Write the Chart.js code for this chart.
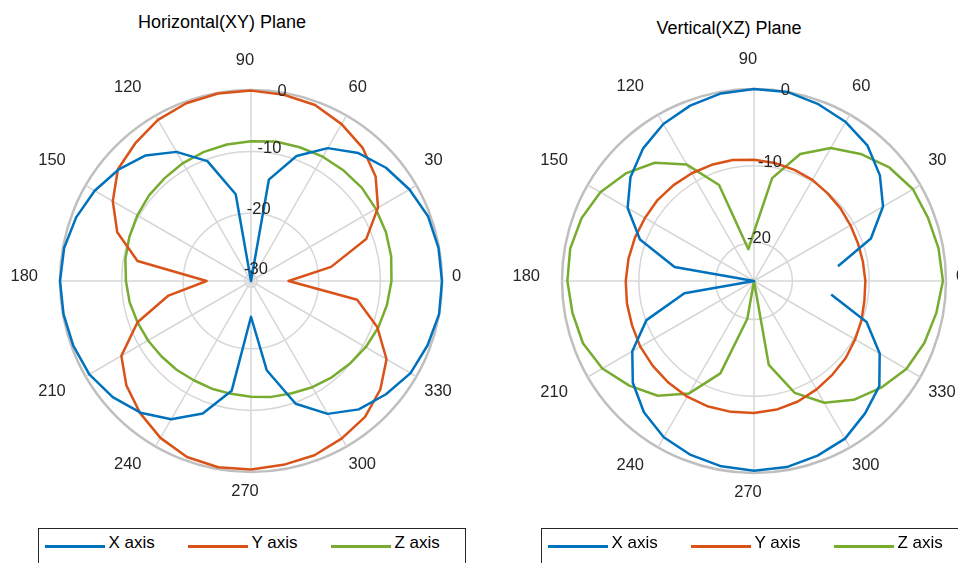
<!DOCTYPE html>
<html>
<head>
<meta charset="utf-8">
<script src="https://cdn.jsdelivr.net/npm/chart.js@4.4.1/dist/chart.umd.min.js"></script>
<style>
  html, body { margin: 0; padding: 0; background: #fff; }
  body { width: 958px; height: 563px; position: relative; overflow: hidden;
         font-family: "Liberation Sans", Arial, sans-serif; }
  canvas { position: absolute; top: 0; }
  .title { position: absolute; font-size: 18px; color: #000; white-space: nowrap;
           transform: translate(-50%, -50%); }
  .legend { position: absolute; top: 528px; height: 60px; border: 1px solid #262626;
            background: #fff; box-sizing: border-box; }
  .legend .line { position: absolute; top: 16px; width: 60px; height: 2.5px; }
  .legend .txt { position: absolute; top: 4px; line-height: 20px; font-size: 17px; color: #000; white-space: nowrap; }
</style>
</head>
<body>
<div class="title" style="left:222px; top:22px;">Horizontal(XY) Plane</div>
<div class="title" style="left:729px; top:28px;">Vertical(XZ) Plane</div>
<canvas id="xyChart" width="479" height="563" style="left:0px;"></canvas>
<canvas id="xzChart" width="479" height="563" style="left:479px;"></canvas>
<div class="legend" id="xyLegend" style="left:38px; width:428px;"></div>
<div class="legend" id="xzLegend" style="left:541px; width:430px;"></div>
<script>
// angles in degrees, counter-clockwise from the right
const thetaDeg = [0, 10, 20, 30, 40, 50, 60, 70, 80, 90, 100, 110, 120, 130, 140, 150, 160, 170,
                  180, 190, 200, 210, 220, 230, 240, 250, 260, 270, 280, 290, 300, 310, 320, 330, 340, 350];
const thetaTickLabels = [0, 30, 60, 90, 120, 150, 180, 210, 240, 270, 300, 330];

const seriesNames = ['X axis', 'Y axis', 'Z axis'];
const seriesColors = ['#0072BD', '#D95319', '#77AC30'];

// Horizontal (XY) plane, dB
const xyRLim = [-31, 0];
const xyRTicks = [-30, -20, -10, 0];
const xyX = [0, -0.1, -0.4, -1.3, -2.4, -3.9, -6.1, -9.4, -14.3, -31, -16.7, -10.3, -6.8, -4.4, -2.9, -1.7, -0.8, -0.2,
             0, -0.1, -0.3, -0.7, -1.7, -3.1, -5.1, -8.1, -12.9, -25.2, -16.3, -9.8, -6.1, -3.8, -2.4, -1.1, -0.5, 0];
const xyY = [-24.9, -17.8, -11.1, -7.2, -4.6, -2.8, -1.6, -0.6, -0.3, -0.1, -0.1, -0.3, -0.8, -1.8, -2.8, -5.1, -7.9, -12.3,
             -23.8, -17.4, -11.4, -6.7, -4.6, -3.0, -1.6, -0.6, -0.3, -0.4, -0.7, -0.9, -1.5, -2.2, -3.6, -5.6, -9.2, -13.5];
const xyZ = [-8.2, -7.9, -7.7, -7.6, -7.5, -7.6, -7.7, -7.9, -8.0, -8.3, -8.5, -8.7, -8.9, -9.2, -9.4, -9.7, -10.0, -10.3,
             -10.7, -11.0, -11.4, -11.7, -12.0, -12.2, -12.4, -12.4, -12.4, -12.2, -11.9, -11.6, -11.1, -10.6, -10.1, -9.5, -9.0, -8.6];

// Vertical (XZ) plane, dB
const xzRLim = [-25, 0];
const xzRTicks = [-20, -10, 0];
const xzX = [null, -13.9, -8.8, -5.6, -3.6, -2.0, -1.1, -0.5, 0, 0, -0.2, -0.7, -1.4, -2.5, -4.0, -6.0, -9.2, -14.5,
             -25, -15.8, -10.1, -6.7, -4.4, -2.7, -1.5, -0.9, -0.5, -0.3, -0.4, -0.8, -1.3, -2.5, -3.7, -6.1, -9.4, -14.8];
const xzY = [-10.5, -10.6, -10.6, -10.5, -10.3, -10.1, -9.8, -9.6, -9.4, -9.2, -9.0, -8.9, -8.8, -8.7, -8.6, -8.6, -8.5, -8.4,
             -8.3, -8.2, -8.1, -7.9, -7.8, -7.7, -7.6, -7.6, -7.7, -7.8, -8.0, -8.3, -8.7, -9.1, -9.4, -9.8, -10.1, -10.4];
const xzZ = [-0.4, -0.6, -0.9, -1.1, -2.0, -3.4, -5.0, -7.4, -11.4, -18.6, -20.8, -11.7, -7.5, -4.9, -3.2, -1.9, -1.1, -0.7,
             -0.7, -1.0, -1.3, -2.2, -3.8, -5.5, -8.1, -12.2, -20.0, -25, -13.9, -9.5, -6.7, -4.8, -3.4, -2.1, -1.4, -0.9];

const textColor = '#262626';
const gridColor = '#d7d7d7';
const edgeColor = '#bfbfbf';
const tickFont = '16.5px "Liberation Sans", Arial, sans-serif';

// theta labels round the rim and r labels along the 80 degree spoke
const polarText = {
    id: 'polarText',
    afterDraw(chart) {
        const s = chart.scales.r;
        const ctx = chart.ctx;
        const rTicks = chart.options.plugins.polarText.rTicks;
        ctx.save();
        ctx.fillStyle = textColor;
        ctx.font = tickFont;
        ctx.textAlign = 'center';
        ctx.textBaseline = 'middle';

        const dx = s.drawingArea + 16;
        const dy = s.drawingArea + 9;
        thetaTickLabels.forEach(deg => {
            const a = deg * Math.PI / 180;
            const c = Math.cos(a), sn = Math.sin(a);
            const w = ctx.measureText(String(deg)).width;
            const hx = Math.abs(c) < 0.01 ? 0 : Math.sign(c) * w / 2;
            const hy = Math.abs(sn) < 0.01 ? 0 : Math.sign(sn) * 15.5;
            ctx.fillText(String(deg), s.xCenter + dx * c + hx - 6, s.yCenter - dy * sn - hy - 5);
        });

        const ra = 80 * Math.PI / 180;
        const rMax = s.max;
        rTicks.forEach(v => {
            const dist = s.getDistanceFromCenterForValue(v);
            const edge = v === rMax;
            const x = Math.max(s.xCenter + dist * Math.cos(ra) - (edge ? 2 : 4), s.xCenter + 5);
            const y = s.yCenter - dist * Math.sin(ra) - (edge ? 1 : 5);
            ctx.fillText(String(v), x, y);
        });
        ctx.restore();
    }
};

function makePolar(canvasId, series, rLim, rTicks, pad) {
    // radar runs clockwise from its start angle, so walk the angles backwards
    const order = thetaDeg.map((_, i) => (thetaDeg.length - i) % thetaDeg.length);
    return new Chart(document.getElementById(canvasId), {
        type: 'radar',
        data: {
            labels: order.map(k => thetaDeg[k]),
            datasets: series.map((vals, i) => ({
                label: seriesNames[i],
                data: order.map(k => vals[k]),
                borderColor: seriesColors[i],
                borderWidth: 2.5,
                borderJoinStyle: 'round',
                fill: false,
                pointRadius: 0,
                pointHitRadius: 0,
                spanGaps: false,
                // the trace is not closed between 350 and 0 degrees
                segment: {
                    borderColor: c => (c.p0DataIndex === 0 && c.p1DataIndex === 1) ? 'rgba(0,0,0,0)' : undefined
                }
            }))
        },
        options: {
            responsive: false,
            animation: false,
            layout: { padding: pad },
            scales: {
                r: {
                    min: rLim[0],
                    max: rLim[1],
                    bounds: 'data',
                    startAngle: 90,
                    afterBuildTicks: sc => { sc.ticks = rTicks.map(v => ({ value: v })); },
                    ticks: { display: false },
                    pointLabels: { display: false },
                    grid: {
                        circular: true,
                        color: c => (c.tick && c.tick.value === rLim[1]) ? edgeColor : gridColor,
                        lineWidth: c => (c.tick && c.tick.value === rLim[1]) ? 2.5 : 1.5
                    },
                    angleLines: {
                        color: gridColor,
                        lineWidth: c => (Number(c.label) % 30 === 0) ? 1.5 : 0
                    }
                }
            },
            plugins: {
                legend: { display: false },
                tooltip: { enabled: false },
                polarText: { rTicks: rTicks }
            }
        },
        plugins: [polarText]
    });
}

makePolar('xyChart', [xyX, xyY, xyZ], xyRLim, xyRTicks, { left: 60, right: 37, top: 90, bottom: 91 });
makePolar('xzChart', [xzX, xzY, xzZ], xzRLim, xzRTicks, { left: 83, right: 12, top: 89, bottom: 90 });

function buildLegend(id) {
    const box = document.getElementById(id);
    seriesNames.forEach((name, i) => {
        const line = document.createElement('div');
        line.className = 'line';
        line.style.left = (6 + 143 * i) + 'px';
        line.style.background = seriesColors[i];
        const txt = document.createElement('div');
        txt.className = 'txt';
        txt.style.left = (69.5 + 143 * i) + 'px';
        txt.textContent = name;
        box.appendChild(line);
        box.appendChild(txt);
    });
}
buildLegend('xyLegend');
buildLegend('xzLegend');
</script>
</body>
</html>
